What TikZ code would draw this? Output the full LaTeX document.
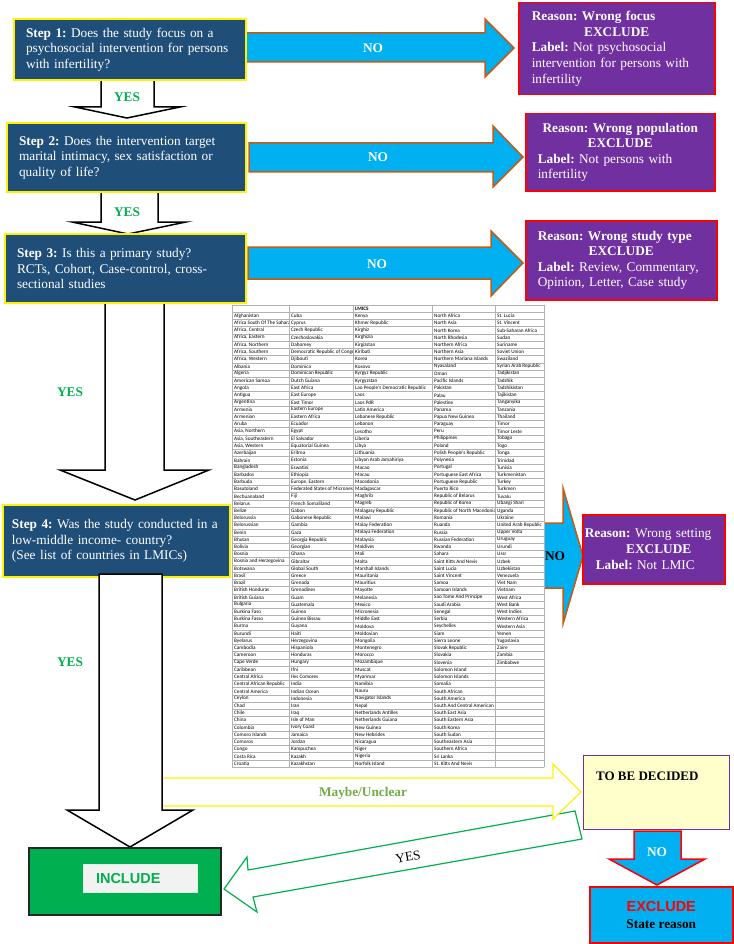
\documentclass[tikz,border=0pt]{standalone}
\usepackage{fontspec}
\setmainfont{Liberation Serif}
\setsansfont{Liberation Sans}
\newfontfamily\cellfont{Carlito}
\usepackage{tikz}
\usetikzlibrary{positioning, calc}
\definecolor{stepblue}{RGB}{31,78,121}
\definecolor{nocyan}{RGB}{0,176,240}
\definecolor{noedge}{RGB}{197,90,17}
\definecolor{reasonpurple}{RGB}{112,48,160}
\definecolor{yesgreen}{RGB}{0,176,80}
\definecolor{maybegreen}{RGB}{112,173,71}
\definecolor{decidefill}{RGB}{255,255,204}
\definecolor{cellgray}{RGB}{242,242,242}
\frenchspacing

\begin{document}
\begin{tikzpicture}[x=1pt, y=-1pt,
    stepbox/.style={draw=yellow, line width=2pt, fill=stepblue, text=white,
      font=\fontsize{13.3}{15.4}\selectfont, align=left, anchor=north west,
      inner xsep=12pt, inner ysep=0pt},
    reasonbox/.style={draw=red, line width=1.5pt, fill=reasonpurple, text=white,
      font=\fontsize{13.3}{15.6}\selectfont, align=left, anchor=north west,
      inner xsep=12pt, inner ysep=0pt},
    noarrow/.style={draw=noedge, line width=1.5pt, fill=nocyan},
    yesarrow/.style={draw=black, line width=1.5pt, fill=white},
    yeslbl/.style={text=yesgreen, font=\bfseries\fontsize{13.3}{15}\selectfont},
    nolbl/.style={text=white, font=\bfseries\fontsize{13.3}{15}\selectfont},
    tablegrid/.style={draw=gray!60, line width=0.5pt},
    cellname/.style={anchor=west, inner sep=0pt, font=\cellfont\fontsize{5.2}{6}\selectfont}]
  \useasboundingbox (0,0) rectangle (733,944);

  % fleches OUI
  \draw[yesarrow] (101,75) -- (154,75) -- (154,107) -- (180,107) -- (127,118) -- (75,107) -- (101,107) -- cycle;
  \node[yeslbl] (yes1) at (127,97) {YES};
  \draw[yesarrow] (101,188) -- (158,188) -- (158,222) -- (186,222) -- (128,234) -- (72,222) -- (101,222) -- cycle;
  \node[yeslbl] (yes2) at (127,212) {YES};
  \draw[yesarrow] (105,300) -- (164,300) -- (164,470) -- (209,470) -- (135,500) -- (60,470) -- (105,470) -- cycle;
  \node[yeslbl] (yes3) at (70,392) {YES};

  % fleches NON
  \draw[noarrow] (246,33) -- (485,33) -- (485,19) -- (514,48) -- (485,77) -- (485,62) -- (246,62) -- cycle;
  \node[nolbl] (no1) at (373,48) {NO};
  \draw[noarrow] (249,143) -- (493,143) -- (493,126) -- (523,157) -- (493,187) -- (493,172) -- (249,172) -- cycle;
  \node[nolbl] (no2) at (378,157) {NO};
  \draw[noarrow] (248,247) -- (491,247) -- (491,231) -- (523,263) -- (491,296) -- (491,279) -- (248,279) -- cycle;
  \node[nolbl] (no3) at (377,264) {NO};
  \draw[noarrow] (530,523) -- (563,523) -- (563,488) -- (583,556) -- (563,624) -- (563,588) -- (530,588) -- cycle;
  \node[nolbl, text=black] (no4) at (555,556) {NO};

  % etapes
  \node[stepbox, text width=208pt, minimum width=232pt, minimum height=61pt] (step1) at (13,18)
    {\textbf{Step 1:} Does the study focus on a\\ psychosocial intervention for persons\\ with infertility?};
  \node[stepbox, text width=215pt, minimum width=239pt, minimum height=69pt] (step2) at (6,122)
    {\textbf{Step 2:} Does the intervention target\\ marital intimacy, sex satisfaction or\\ quality of life?};
  \node[stepbox, text width=217pt, minimum width=241pt, minimum height=69pt] (step3) at (4,233)
    {\textbf{Step 3:} Is this a primary study?\\ RCTs, Cohort, Case-control, cross-\\ sectional studies};
  \node[stepbox, text width=209pt, inner xsep=9pt, minimum width=227pt, minimum height=72pt] (step4) at (2,504)
    {\textbf{Step 4:} Was the study conducted in a\\ low-middle income- country?\\ (See list of countries in LMICs)};

  % raisons
  \node[reasonbox, text width=170pt, inner xsep=13pt, minimum height=92pt] (reason1) at (518,2)
    {\textbf{Reason: Wrong focus}\par{\centering\textbf{EXCLUDE}\par}\textbf{Label:} Not psychosocial\\ intervention for persons with\\ infertility};
  \node[reasonbox, text width=165pt, minimum height=77pt] (reason2) at (525,113)
    {{\centering\textbf{Reason: Wrong population}\\ \textbf{EXCLUDE}\par}\textbf{Label:} Not persons with\\ infertility};
  \node[reasonbox, text width=167pt, minimum height=79pt] (reason3) at (525,220)
    {\textbf{Reason: Wrong study type}\par{\centering\textbf{EXCLUDE}\par}\textbf{Label:} Review, Commentary,\\ Opinion, Letter, Case study};
  \node[reasonbox, text width=138pt, inner xsep=2pt, minimum height=69pt] (reason4) at (582,514)
    {\textbf{Reason:} Wrong setting\par{\centering\hspace*{10pt}\textbf{EXCLUDE}\par}\hspace*{11pt}\textbf{Label:} Not LMIC};

  % tableau des LMICs
  \fill[white] (232,305) rectangle (544,767);
  \foreach \r in {0,...,64}
    \draw[tablegrid] (232,{305+7.22*\r}) -- (544,{305+7.22*\r});
  \foreach \c in {232,289,353,432,495,544}
    \draw[tablegrid] (\c,305) -- (\c,767.1);
  \node[cellname, font=\cellfont\bfseries\fontsize{5.2}{6}\selectfont] (lmics) at (355,308.6) {LMICS};
  \begin{scope}
    \clip (232,305) rectangle (288.5,768);
    \foreach \cname [count=\r] in {Afghanistan, Africa South Of The Sahara, {Africa, Central}, {Africa, Eastern}, {Africa, Northern}, {Africa, Southern}, {Africa, Western}, Albania, Algeria, American Samoa, Angola, Antigua, Argentina, Armenia, Armenian, Aruba, {Asia, Northern}, {Asia, Southeastern}, {Asia, Western}, Azerbaijan, Bahrain, Bangladesh, Barbados, Barbuda, Basutoland, Bechuanaland, Belarus, Belize, Belorussia, Belorussian, Benin, Bhutan, Bolivia, Bosnia, Bosnia and Herzegovina, Botswana, Brasil, Brazil, British Honduras, British Guiana, Bulgaria, Burkina Faso, Burkina Fasso, Burma, Burundi, Byelarus, Cambodia, Cameroon, Cape Verde, Caribbean, Central Africa, Central African Republic, Central America, Ceylon, Chad, Chile, China, Colombia, Comoro Islands, Comoros, Congo, Costa Rica, Croatia}
      \node[cellname] (colA\r) at (234,{308.6+7.22*\r}) {\cname};
  \end{scope}
  \begin{scope}
    \clip (289.5,305) rectangle (352.5,768);
    \foreach \cname [count=\r] in {Cuba, Cyprus, Czech Republic, Czechoslovakia, Dahomey, Democratic Republic of Congo, Djibouti, Dominica, Dominican Republic, Dutch Guiana, East Africa, East Europe, East Timor, Eastern Europe, Eastern Africa, Ecuador, Egypt, El Salvador, Equatorial Guinea, Eritrea, Estonia, Eswatini, Ethiopia, {Europe, Eastern}, Federated States of Micronesia, Fiji, French Somaliland, Gabon, Gabonese Republic, Gambia, Gaza, Georgia Republic, Georgian, Ghana, Gibraltar, Global South, Greece, Grenada, Grenadines, Guam, Guatemala, Guinea, Guinea Bissau, Guyana, Haiti, Herzegovina, Hispaniola, Honduras, Hungary, Ifni, Iles Comores, India, Indian Ocean, Indonesia, Iran, Iraq, Isle of Man, Ivory Coast, Jamaica, Jordan, Kampuchea, Kazakh, Kazakhstan}
      \node[cellname] (colB\r) at (291,{308.6+7.22*\r}) {\cname};
  \end{scope}
  \begin{scope}
    \clip (353.5,305) rectangle (431.5,768);
    \foreach \cname [count=\r] in {Kenya, Khmer Republic, Kirghiz, Kirghizia, Kirgizstan, Kiribati, Korea, Kosovo, Kyrgyz Republic, Kyrgyzstan, Lao People's Democratic Republic, Laos, Laos PdR, Latin America, Lebanese Republic, Lebanon, Lesotho, Liberia, Libya, Lithuania, Libyan Arab Jamahiriya, Macao, Macau, Macedonia, Madagascar, Maghrib, Magreb, Malagasy Republic, Malawi, Malay Federation, Malaya Federation, Malaysia, Maldives, Mali, Malta, Marshall Islands, Mauritania, Mauritius, Mayotte, Melanesia, Mexico, Micronesia, Middle East, Moldova, Moldovian, Mongolia, Montenegro, Morocco, Mozambique, Muscat, Myanmar, Namibia, Nauru, Navigator Islands, Nepal, Netherlands Antilles, Netherlands Guiana, New Guinea, New Hebrides, Nicaragua, Niger, Nigeria, Norfolk Island}
      \node[cellname] (colC\r) at (355,{308.6+7.22*\r}) {\cname};
  \end{scope}
  \begin{scope}
    \clip (432.5,305) rectangle (494.5,768);
    \foreach \cname [count=\r] in {North Africa, North Asia, North Korea, North Rhodesia, Northern Africa, Northern Asia, Northern Mariana Islands, Nyasaland, Oman, Pacific Islands, Pakistan, Palau, Palestine, Panama, Papua New Guinea, Paraguay, Peru, Philippines, Poland, Polish People's Republic, Polynesia, Portugal, Portuguese East Africa, Portuguese Republic, Puerto Rico, Republic of Belarus, Republic of Korea, Republic of North Macedonia, Romania, Ruanda, Russia, Russian Federation, Rwanda, Sahara, Saint Kitts And Nevis, Saint Lucia, Saint Vincent, Samoa, Samoan Islands, Sao Tome And Principe, Saudi Arabia, Senegal, Serbia, Seychelles, Siam, Sierra Leone, Slovak Republic, Slovakia, Slovenia, Solomon Island, Solomon Islands, Somalia, South African, South America, South And Central American, South East Asia, South Eastern Asia, South Korea, South Sudan, Southeastern Asia, Southern Africa, Sri Lanka, St. Kitts And Nevis}
      \node[cellname] (colD\r) at (434,{308.6+7.22*\r}) {\cname};
  \end{scope}
  \begin{scope}
    \clip (495.5,305) rectangle (543.5,768);
    \foreach \cname [count=\r] in {St. Lucia, St. Vincent, Sub-Saharan Africa, Sudan, Suriname, Soviet Union, Swaziland, Syrian Arab Republic, Tadjikistan, Tadzhik, Tadzhikistan, Tajikistan, Tanganyika, Tanzania, Thailand, Timor, Timor Leste, Tobago, Togo, Tonga, Trinidad, Tunisia, Turkmenistan, Turkey, Turkmen, Tuvalu, Ubangi Shari, Uganda, Ukraine, United Arab Republic, Upper Volta, Uruguay, Urundi, Ussr, Uzbek, Uzbekistan, Venezuela, Viet Nam, Vietnam, West Africa, West Bank, West Indies, Western Africa, Western Asia, Yemen, Yugoslavia, Zaire, Zambia, Zimbabwe}
      \node[cellname] (colE\r) at (497,{308.6+7.22*\r}) {\cname};
  \end{scope}

  % bas : decision finale
  \draw[draw=yesgreen, line width=1.2pt, fill=white] (575,811) -- (248,870) -- (247,857) -- (224,889) -- (257,912) -- (253,897) -- (582,839) -- cycle;
  \node[rotate=10, font=\fontsize{13.3}{15}\selectfont] (yes5) at (408,857) {YES};
  \draw[draw=yellow, line width=1.2pt, fill=white] (162,778) -- (553,778) -- (553,764) -- (581,792) -- (553,819) -- (553,806) -- (162,806) -- cycle;
  \node[text=maybegreen, font=\bfseries\fontsize{13.3}{15}\selectfont] (maybe) at (363,793) {Maybe/Unclear};
  \draw[yesarrow] (99,574) -- (162,574) -- (162,810) -- (193,810) -- (130,847) -- (67,810) -- (99,810) -- cycle;
  \node[yeslbl] (yes4) at (70,662) {YES};

  \node[draw=reasonpurple, line width=1.2pt, fill=decidefill, minimum width=146pt, minimum height=74pt, anchor=north west] (decide) at (583,755) {};
  \node[anchor=west, inner sep=0pt, font=\bfseries\fontsize{13}{15}\selectfont] (decidetxt) at ([shift={(13,21)}]decide.north west) {TO BE DECIDED};
  \draw[draw=red, line width=1.5pt, fill=nocyan] (634,831) -- (681,831) -- (681,859) -- (705,859) -- (657,885) -- (609,859) -- (634,859) -- cycle;
  \node[nolbl] (no5) at (657,852) {NO};
  \node[draw=red, line width=1.5pt, fill=nocyan, minimum width=143pt, minimum height=56pt, anchor=north west, align=center,
    font=\bfseries\fontsize{13.3}{17}\selectfont] (exclude) at (589,886)
    {{\sffamily\fontsize{14.5}{17}\selectfont\color{red}EXCLUDE}\\ State reason};

  \node[draw=black!85, line width=1.5pt, fill=yesgreen, minimum width=192pt, minimum height=67pt, anchor=north west] (include) at (28,847) {};
  \node[draw=white!85!yesgreen, fill=cellgray, text=yesgreen, align=left, text width=88pt, inner xsep=13pt, minimum height=28pt,
    font=\sffamily\bfseries\fontsize{14.5}{16}\selectfont] (includetxt) at (140,878) {INCLUDE};
\end{tikzpicture}
\end{document}
